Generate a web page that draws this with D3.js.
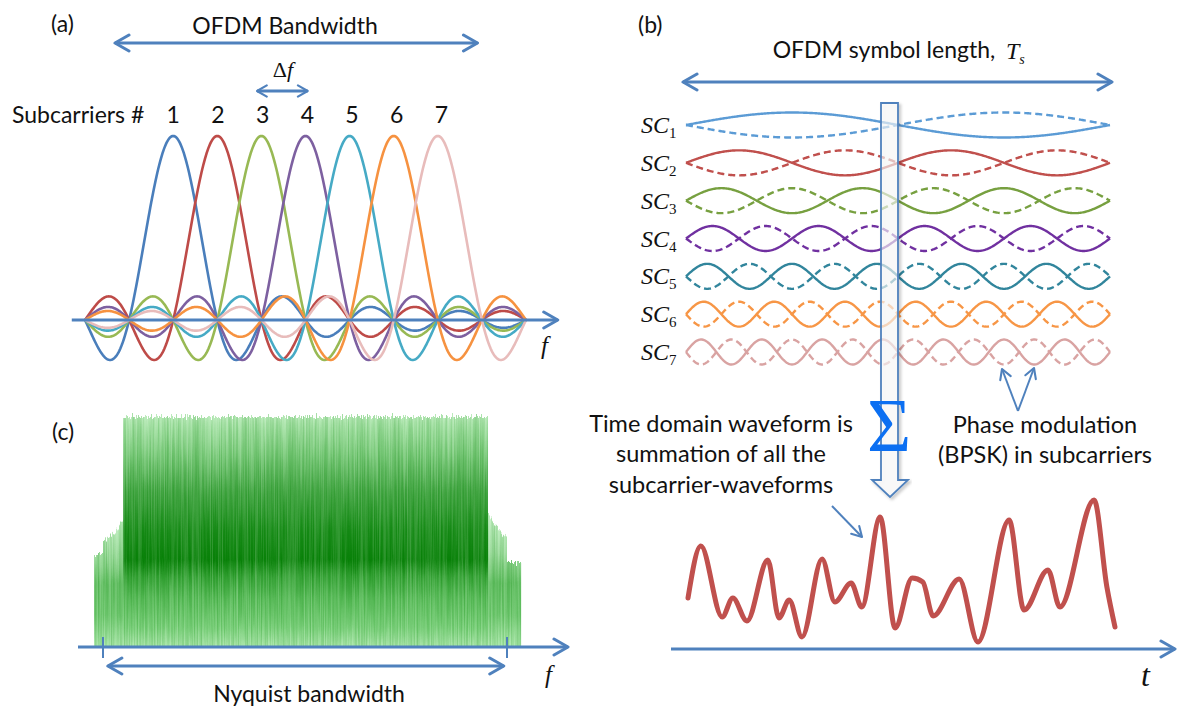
<!DOCTYPE html>
<html>
<head>
<meta charset="utf-8">
<script src="https://cdn.jsdelivr.net/npm/d3@7"></script>
<style>
  body { margin: 0; background: #fff; }
  svg { display: block; }
  text { font-family: Lato, "Open Sans", sans-serif; fill: #111; }
  .math { font-family: "Liberation Serif", "DejaVu Serif", serif; font-style: italic; }
</style>
</head>
<body>
<div id="fig"></div>
<script>
// ---------------- data ----------------
var subcarriers = [1, 2, 3, 4, 5, 6, 7];
var scCenter = [0, 1, 2, 3, 4, 5, 6];            // centre of each subcarrier, in units of Δf
var sincSpan = [-2, 8];                           // range each sinc is drawn over
var colorsA = ["#4a7ebb", "#be4b48", "#98b954", "#7d60a0", "#46aac5", "#f69240", "#e8bcbb"];
var colorsB = ["#5b9bd5", "#c0504d", "#77a040", "#7030a0", "#31859c", "#f79646", "#d9a3a2"];
var scCycles = [1, 2, 3, 4, 5, 6, 7];             // cycles per symbol for SC1..SC7

// time domain waveform (t = % of symbol, v = height above axis)
var waveT = [0, 3.0, 8.0, 10.5, 13.8, 18.7, 21.3, 23.7, 26.7, 31.4, 34.4, 38.2, 40.7, 45.0, 48.5, 52.5, 55.0, 57.4, 63.5, 67.9, 75.2, 78.7, 84.3, 87.1, 95.1, 98.1, 100];
var waveV = [51, 103, 32, 51, 28, 89, 31, 49, 12, 90, 47, 66, 42, 132, 21, 71, 67, 33, 70, 7, 129, 39, 79, 42, 149, 62, 22];

// spectrum envelope for (c), f normalised to the Nyquist band
var specF   = [-0.522, -0.522, -0.5, -0.5, -0.47, -0.452, 0.456, 0.47, 0.5, 0.5, 0.535, 0.535];
var specLvl = [-0.06, 0.40, 0.40, 0.46, 0.50, 0.55, 0.57, 0.53, 0.47, 0.37, 0.37, -0.06];
var mainBand = [-0.45, 0.453];   // flat top part of the spectrum

var blue = "#4f81bd";

var svg = d3.select("#fig").append("svg")
    .attr("width", 1178)
    .attr("height", 708);

var defs = svg.append("defs");

// open chevron arrow heads
function chevron(id, size, sw) {
    defs.append("marker")
        .attr("id", id)
        .attr("viewBox", "0 0 20 20")
        .attr("refX", 18).attr("refY", 10)
        .attr("markerWidth", size).attr("markerHeight", size)
        .attr("markerUnits", "userSpaceOnUse")
        .attr("orient", "auto-start-reverse")
        .append("path")
        .attr("d", "M4,2 L18,10 L4,18")
        .attr("fill", "none")
        .attr("stroke", blue)
        .attr("stroke-width", sw)
        .attr("stroke-linecap", "round")
        .attr("stroke-linejoin", "round");
}
chevron("arrBig", 20, 3);
chevron("arrSmall", 14, 3);

function arrow(g, x1, y1, x2, y2, opts) {
    opts = opts || {};
    var l = g.append("line")
        .attr("x1", x1).attr("y1", y1).attr("x2", x2).attr("y2", y2)
        .attr("stroke", blue)
        .attr("stroke-width", opts.w || 3)
        .attr("marker-end", "url(#" + (opts.marker || "arrBig") + ")");
    if (opts.both) l.attr("marker-start", "url(#" + (opts.marker || "arrBig") + ")");
    return l;
}

function label(x, y, str, size, anchor) {
    return svg.append("text")
        .attr("x", x).attr("y", y)
        .attr("font-size", size)
        .attr("text-anchor", anchor || "start")
        .text(str);
}

// ================= (a) subcarrier spectra =================
var gA = svg.append("g");
var xA = d3.scaleLinear().domain(sincSpan).range([85, 526]);
var yA = d3.scaleLinear().domain([0, 1]).range([320, 136]);

function sinc(u) { return u === 0 ? 1 : Math.sin(Math.PI * u) / (Math.PI * u); }
var uSteps = d3.range(sincSpan[0], sincSpan[1] + 0.0001, 0.02);

var lineA = d3.line()
    .x(function(d) { return xA(d[0]); })
    .y(function(d) { return yA(d[1]); });

scCenter.forEach(function(c, i) {
    var pts = uSteps.map(function(u) { return [u, sinc(u - c)]; });
    gA.append("path")
        .attr("d", lineA(pts))
        .attr("fill", "none")
        .attr("stroke", colorsA[i])
        .attr("stroke-width", 2.6);
});

// frequency axis
arrow(gA, xA(-2.3), yA(0), xA(8.72), yA(0));
gA.append("text").attr("class", "math")
    .attr("x", 541).attr("y", 354).attr("font-size", 25).text("f");

label(51, 32, "(a)", 23);
label(285, 34, "OFDM Bandwidth", 23, "middle");
arrow(gA, xA(-1.32), 43, xA(6.9), 43, {both: true});
var df = gA.append("text").attr("class", "math")
    .attr("x", 283).attr("y", 77).attr("font-size", 22)
    .attr("text-anchor", "middle");
df.append("tspan").attr("font-style", "normal").text("Δ");
df.append("tspan").text("f");
arrow(gA, xA(1.9), 91, xA(3.05), 91, {both: true, marker: "arrSmall"});

label(12, 123, "Subcarriers #", 23);
subcarriers.forEach(function(n, i) {
    label(xA(scCenter[i]) + i * 0.6, 123, n, 23, "middle");
});

// ================= (b) subcarrier waveforms =================
var gB = svg.append("g");
var xB = d3.scaleLinear().domain([0, 1]).range([686, 1110]);
var rowY = d3.scaleLinear().domain([1, 7]).range([125, 352]);
var amp = 12.5;
var tSteps = d3.range(0, 1.0001, 0.0025);

subcarriers.forEach(function(n, i) {
    var cy = rowY(n);
    [1, -1].forEach(function(sgn) {
        var line = d3.line()
            .x(function(t) { return xB(t); })
            .y(function(t) { return cy - sgn * amp * Math.sin(2 * Math.PI * scCycles[i] * t); });
        gB.append("path")
            .attr("d", line(tSteps))
            .attr("fill", "none")
            .attr("stroke", colorsB[i])
            .attr("stroke-width", 2.4)
            .attr("stroke-dasharray", sgn > 0 ? null : "7,4");
    });
    var lab = gB.append("text").attr("class", "math")
        .attr("x", 641).attr("y", cy + 8)
        .attr("font-size", 24);
    lab.append("tspan").text("SC");
    lab.append("tspan").attr("dy", 5).attr("font-size", 15)
        .attr("font-style", "normal").text(n);
});

label(638, 33, "(b)", 23);
label(884, 58, "OFDM symbol length,", 23, "middle");
var ts = svg.append("text").attr("class", "math")
    .attr("x", 1006).attr("y", 59).attr("font-size", 24);
ts.append("tspan").text("T");
ts.append("tspan").attr("dy", 5).attr("font-size", 14).text("s");
arrow(gB, 683, 82, 1112, 82, {both: true});

// hollow summation arrow
defs.append("filter").attr("id", "shadow")
    .append("feDropShadow")
    .attr("dx", 2).attr("dy", 2).attr("stdDeviation", 1.5)
    .attr("flood-color", "#000").attr("flood-opacity", 0.25);
gB.append("path")
    .attr("d", "M881,103 H898 V480 H908 L890,497 L872,480 H881 Z")
    .attr("fill", "#fff").attr("fill-opacity", 0.6)
    .attr("stroke", blue).attr("stroke-width", 1.8)
    .attr("filter", "url(#shadow)");
svg.append("text")
    .attr("x", 889).attr("y", 451)
    .attr("font-size", 76)
    .attr("text-anchor", "middle")
    .style("font-family", "'Liberation Serif', serif")
    .style("fill", "#0b6ff2")
    .text("Σ");

// annotations
label(721, 432, "Time domain waveform is", 23.5, "middle");
label(721, 462, "summation of all the", 23.5, "middle");
label(721, 493, "subcarrier-waveforms", 23.5, "middle");
label(1045, 433, "Phase modulation", 23.5, "middle");
label(1045, 463, "(BPSK) in subcarriers", 23.5, "middle");
arrow(svg, 832, 506, 862, 537, {w: 2, marker: "arrSmall"});
arrow(svg, 1018, 411, 1002, 369, {w: 2, marker: "arrSmall"});
arrow(svg, 1018, 411, 1034, 368, {w: 2, marker: "arrSmall"});

// time domain sum
var xW = d3.scaleLinear().domain([0, 100]).range([688, 1115]);
var yW = d3.scaleLinear().domain([0, 160]).range([649, 489]);
var waveLine = d3.line()
    .x(function(d) { return xW(d); })
    .y(function(d, i) { return yW(waveV[i]); })
    .curve(d3.curveMonotoneX);
svg.append("path")
    .attr("d", waveLine(waveT))
    .attr("fill", "none")
    .attr("stroke", "#c0504d")
    .attr("stroke-width", 5)
    .attr("stroke-linecap", "round")
    .attr("stroke-linejoin", "round");
arrow(svg, 671, yW(0), 1175, yW(0));
svg.append("text").attr("class", "math")
    .attr("x", 1141).attr("y", 686).attr("font-size", 32).text("t");

// ================= (c) OFDM spectrum =================
var xC = d3.scaleLinear().domain([-0.5, 0.5]).range([103, 507]);
var yC = d3.scaleLinear().domain([0, 1]).range([647, 417]);

var gShoulder = defs.append("linearGradient").attr("id", "gShoulder")
    .attr("gradientUnits", "userSpaceOnUse")
    .attr("x1", 0).attr("x2", 0).attr("y1", 520).attr("y2", 647);
[[0, "#bdeebd"], [0.25, "#9cdd9c"], [0.5, "#62c062"], [0.75, "#70ca70"], [1, "#a6e6a6"]].forEach(function(s) {
    gShoulder.append("stop").attr("offset", s[0]).attr("stop-color", s[1]);
});
var gMain = defs.append("linearGradient").attr("id", "gMain")
    .attr("gradientUnits", "userSpaceOnUse")
    .attr("x1", 0).attr("x2", 0).attr("y1", 405).attr("y2", 647);
[[0, "#d0f4d0"], [0.08, "#a4e2a4"], [0.2, "#7acb7a"], [0.36, "#3fa53f"], [0.52, "#188d18"], [0.64, "#0a830a"],
 [0.71, "#34a334"], [0.8, "#58bc58"], [0.92, "#78d078"], [1, "#a4e4a4"]].forEach(function(s) {
    gMain.append("stop").attr("offset", s[0]).attr("stop-color", s[1]);
});

// fine vertical streaks + slightly ragged top edge
var filt = defs.append("filter").attr("id", "streaks")
    .attr("x", "-2%").attr("y", "-8%").attr("width", "104%").attr("height", "116%")
    .attr("color-interpolation-filters", "sRGB");
filt.append("feTurbulence").attr("type", "fractalNoise")
    .attr("baseFrequency", "0.7 0.008").attr("numOctaves", 2).attr("seed", 7).attr("result", "n");
filt.append("feColorMatrix").attr("in", "n").attr("type", "matrix")
    .attr("values", "0 0 0 0 1  0 0 0 0 1  0 0 0 0 1  0.4 0 0 0 -0.15").attr("result", "w");
filt.append("feComposite").attr("in", "w").attr("in2", "SourceGraphic").attr("operator", "in").attr("result", "wm");
filt.append("feColorMatrix").attr("in", "n").attr("type", "matrix")
    .attr("values", "0 0 0 0 0  0 0 0 0 0.45  0 0 0 0 0  -0.4 0 0 0 0.25").attr("result", "d");
filt.append("feComposite").attr("in", "d").attr("in2", "SourceGraphic").attr("operator", "in").attr("result", "dm");
var merge = filt.append("feMerge").attr("result", "tex");
merge.append("feMergeNode").attr("in", "SourceGraphic");
merge.append("feMergeNode").attr("in", "wm");
merge.append("feMergeNode").attr("in", "dm");
filt.append("feTurbulence").attr("type", "fractalNoise")
    .attr("baseFrequency", "0.8 0.05").attr("numOctaves", 1).attr("seed", 3).attr("result", "n2");
filt.append("feColorMatrix").attr("in", "n2").attr("type", "matrix")
    .attr("values", "0 0 0 0 0.5  1 0 0 0 0  0 0 0 0 0  0 0 0 0 1").attr("result", "disp");
filt.append("feDisplacementMap").attr("in", "tex").attr("in2", "disp")
    .attr("scale", 14).attr("xChannelSelector", "R").attr("yChannelSelector", "G");

defs.append("clipPath").attr("id", "clipC")
    .append("rect").attr("x", 0).attr("y", 380).attr("width", 600).attr("height", yC(0) - 380);

var gC = svg.append("g").attr("clip-path", "url(#clipC)")
    .append("g").attr("filter", "url(#streaks)");

var envLine = d3.line()
    .x(function(d) { return xC(d); })
    .y(function(d, i) { return yC(specLvl[i]); });
gC.append("path")
    .attr("d", envLine(specF) + "Z")
    .attr("fill", "url(#gShoulder)");
gC.append("rect")
    .attr("x", xC(mainBand[0]))
    .attr("y", yC(1))
    .attr("width", xC(mainBand[1]) - xC(mainBand[0]))
    .attr("height", yC(0) - yC(1) + 14)
    .attr("fill", "url(#gMain)");

// axis, Nyquist ticks and arrow
arrow(svg, 78, yC(0), 568, yC(0));
[-0.5, 0.5].forEach(function(f) {
    svg.append("line")
        .attr("x1", xC(f)).attr("x2", xC(f))
        .attr("y1", yC(0) - 10).attr("y2", yC(0) + 11)
        .attr("stroke", blue).attr("stroke-width", 2);
});
arrow(svg, xC(-0.488), 666, xC(0.492), 666, {both: true});
svg.append("text").attr("class", "math")
    .attr("x", 545).attr("y", 683).attr("font-size", 25).text("f");
label(52, 440, "(c)", 23);
label(309, 702, "Nyquist bandwidth", 23, "middle");
</script>
</body>
</html>
